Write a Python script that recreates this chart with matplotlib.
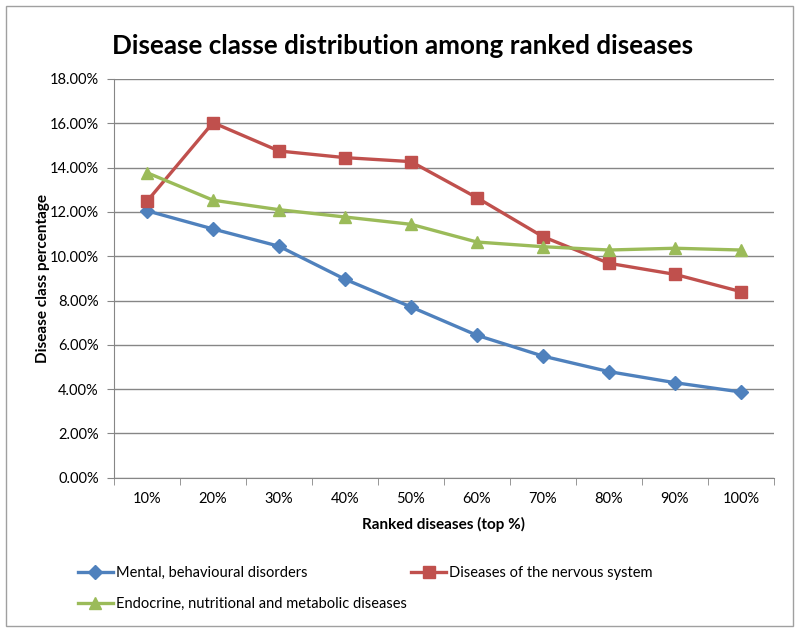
import matplotlib
matplotlib.use('Agg')
import matplotlib.pyplot as plt
from matplotlib.patches import Rectangle
from matplotlib.ticker import FixedLocator, NullFormatter

plt.rcParams['font.family'] = ['Lato', 'DejaVu Sans']

# Data
categories = ['10%', '20%', '30%', '40%', '50%', '60%', '70%', '80%', '90%', '100%']
mental = [12.05, 11.23, 10.45, 8.96, 7.71, 6.43, 5.49, 4.79, 4.29, 3.87]
nervous = [12.48, 16.03, 14.75, 14.45, 14.27, 12.64, 10.88, 9.68, 9.18, 8.40]
endocrine = [13.77, 12.53, 12.10, 11.77, 11.44, 10.64, 10.43, 10.28, 10.36, 10.28]
y_ticks = [0, 2, 4, 6, 8, 10, 12, 14, 16, 18]

grid_col = '#868686'

fig = plt.figure(figsize=(8, 6.32), dpi=100)
ax = fig.add_axes([0.1425, 0.2441, 0.825, 0.6309])

x = list(range(len(categories)))
l_m, = ax.plot(x, mental, color='#4F81BD', lw=2.4, marker='D', ms=7,
               label='Mental, behavioural disorders')
l_n, = ax.plot(x, nervous, color='#C0504D', lw=2.4, marker='s', ms=9,
               label='Diseases of the nervous system')
l_e, = ax.plot(x, endocrine, color='#9BBB59', lw=2.4, marker='^', ms=9,
               label='Endocrine, nutritional and metabolic diseases')

ax.set_xlim(-0.5, len(categories) - 0.5)
ax.set_ylim(0, 18)
ax.set_yticks(y_ticks)
ax.set_yticklabels(['%.2f%%' % v for v in y_ticks], fontsize=10.5)
ax.yaxis.grid(True, color=grid_col, lw=1)
ax.set_axisbelow(True)

# category labels centred, tick marks on the boundaries (Excel style)
ax.set_xticks(x)
ax.set_xticklabels(categories, fontsize=10.5)
ax.tick_params(axis='x', length=0, pad=10)
ax.xaxis.set_minor_locator(FixedLocator([i - 0.5 for i in range(len(categories) + 1)]))
ax.xaxis.set_minor_formatter(NullFormatter())
ax.tick_params(axis='x', which='minor', length=5, color=grid_col, direction='out')
ax.tick_params(axis='y', length=5, color=grid_col, direction='out', pad=6)

for side in ['top', 'right']:
    ax.spines[side].set_visible(False)
for side in ['left', 'bottom']:
    ax.spines[side].set_color(grid_col)

ax.set_xlabel('Ranked diseases (top %)', fontsize=11, fontweight='bold', labelpad=8)
ax.set_ylabel('Disease class percentage', fontsize=11, fontweight='bold', labelpad=0)
fig.text(0.503, 0.928, 'Disease classe distribution among ranked diseases',
         ha='center', va='center', fontsize=18.7, fontweight='bold')

# column-wise fill: blue and green in column 1, red in column 2
fig.legend(handles=[l_m, l_e, l_n], loc='upper left', bbox_to_anchor=(0.09, 0.114),
           ncol=2, frameon=False, fontsize=10.5, handlelength=2.4, handletextpad=0.2,
           columnspacing=0.3, labelspacing=1.2, borderaxespad=0)

fig.patches.append(Rectangle((0.008, 0.01), 0.983, 0.98, transform=fig.transFigure,
                             fill=False, edgecolor='#a0a0a0', lw=1))

fig.savefig('out.png', dpi=100)
